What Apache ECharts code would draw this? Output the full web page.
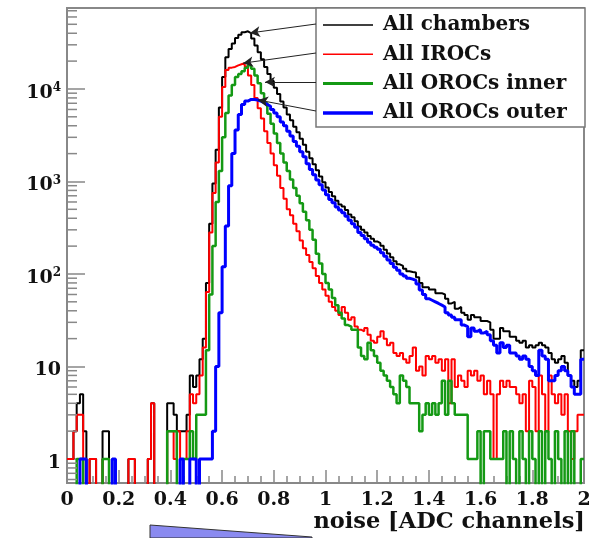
<!DOCTYPE html>
<html><head><meta charset="utf-8">
<script src="https://cdn.jsdelivr.net/npm/echarts@6/dist/echarts.min.js"></script>
<style>html,body{margin:0;padding:0;background:#fff}#c{width:594px;height:538px}</style>
</head><body><div id="c"></div>
<script>
// ---- data (160 bins of 0.0125 from 0 to 2) ----
const binWidth = 0.0125;
const seriesNames = ['All chambers', 'All IROCs', 'All OROCs inner', 'All OROCs outer'];
const blackCounts = [
  1,1,2,4,5,2,0,1,1,0,
  0,2,2,0,1,0,0,0,0,1,
  1,0,0,0,0,1,4,0,0,0,
  0,4,4,3,2,2,2,3,8,6,
  8,12,20,80,350,950,2200,6300,13500,22000,
  27000,31000,35500,38500,41000,42000,40000,35000,29500,25000,
  21000,17300,14500,12200,10300,8800,7300,6300,5300,4600,
  3900,3400,2900,2500,2100,1780,1530,1320,1130,980,
  860,770,690,620,565,535,490,440,410,372,
  325,300,280,258,240,225,215,202,183,166,
  152,137,127,122,114,107,105,104,92,80,
  72,72,68,68,62,62,60,54,48,50,
  42,44,38,36,32,36,34,34,31,31,
  30,25,20,20,26,24,24,21,21,19,
  18,19,16,17,16,17,18,17,16,14,
  12,11,12,13,11,8,7,6,7,15
];
const redCounts = [
  1,1,2,3,3,0,0,1,1,0,
  0,1,1,0,0,0,0,0,0,1,
  1,0,0,0,0,1,4,0,0,0,
  0,2,2,1,2,1,1,2,5,4,
  5,8,16,64,280,750,1600,5000,10500,16000,
  17000,17300,18000,18500,19000,17500,14000,11000,8000,6200,
  4800,3500,2600,2000,1500,1150,850,650,500,430,
  350,290,230,190,160,135,115,95,80,68,
  58,50,44,40,36,44,38,32,34,27,
  25,24,26,22,19,18,21,24,20,17,
  18,14,13,14,12,11,13,16,9,10,
  8,13,12,13,11,12,9,12,4,12,
  6,8,7,6,9,8,9,7,8,5,
  7,5,1,5,7,6,7,6,6,5,
  4,5,2,7,6,2,8,5,2,8,
  5,4,5,3,5,2,1,2,3,3
];
const greenCounts = [
  0,0,0,1,1,0,0,0,0,0,
  0,1,1,0,0,0,0,0,0,0,
  0,0,0,0,0,0,0,0,0,0,
  0,2,2,2,0,0,1,1,2,1,
  3,3,3,15,60,200,600,1300,3000,5500,
  8500,11000,13500,14500,15500,17000,18000,16500,14000,11500,
  9000,7000,5400,4200,3300,2600,2000,1600,1300,1050,
  850,700,580,470,380,300,235,165,130,100,
  80,68,55,46,38,33,28,27,25,25,
  16,13,12,18,15,13,11,9,8,7,
  6,5,4,8,7,6,4,4,4,2,
  3,4,3,4,3,4,7,3,7,4,
  3,3,3,3,1,1,1,2,0,2,
  2,1,1,1,1,2,0,2,1,0,
  2,1,0,2,1,0,2,0,2,1,
  0,2,1,0,2,0,2,0,0,1
];
const blueCounts = [
  0,0,0,0,1,1,0,0,0,0,
  0,0,0,0,1,0,0,0,0,0,
  0,0,0,0,0,0,0,0,0,0,
  0,0,0,0,0,1,0,0,1,1,
  0,1,1,1,1,2,10,38,120,330,
  900,2000,3600,5300,6800,7400,7700,7700,7600,7400,
  7100,6800,6500,6000,5500,5000,4400,4000,3500,3100,
  2700,2400,2100,1850,1550,1350,1180,1040,920,810,
  720,640,590,530,490,460,420,380,350,320,
  280,260,240,220,205,195,185,170,155,142,
  130,118,110,100,95,90,88,85,78,67,
  60,54,52,50,48,46,44,38,36,34,
  32,32,28,27,21,26,24,25,23,24,
  22,19,17,14,18,16,17,14,14,13,
  12,13,12,10,9,8,15,13,12,7,
  7,8,9,10,9,8,6,5,5,12
];
const seriesColors = ['#000000', '#ff0000', '#149914', '#0000ff'];
const seriesWidths = [2, 2, 2.5, 3];
const legendLineWidths = [1.6, 1.6, 3, 3.5];
const yMinorTicks = [0.6,0.7,0.8,0.9, 2,3,4,5,6,7,8,9, 20,30,40,50,60,70,80,90,
  200,300,400,500,600,700,800,900, 2000,3000,4000,5000,6000,7000,8000,9000,
  20000,30000,40000,50000,60000,70000];
// arrow tips on the curves (data coords) and legend anchor rows
const arrowTips = [[0.708, 40300], [0.681, 19000], [0.766, 11900], [0.739, 7600]];
const legendAnchors = [[316, 24], [316, 53], [316, 82], [316, 111]];

const FONT = "'DejaVu Serif', 'Liberation Serif', serif";
const FLOOR = 0.3; // empty bins drawn down below the axis minimum (clipped)

function toSteps(counts) {
  const pts = counts.map((v, i) => [i * binWidth, v > 0 ? v : FLOOR]);
  pts.push([counts.length * binWidth, pts[pts.length - 1][1]]);
  return pts;
}
const allCounts = [blackCounts, redCounts, greenCounts, blueCounts];

const chart = echarts.init(document.getElementById('c'), null, {renderer: 'canvas'});
const series = allCounts.map((c, k) => ({
  name: seriesNames[k], type: 'line', step: 'end', symbol: 'none', showSymbol: false,
  data: toSteps(c), clip: true, animation: false, z: 2 + k * 0.01,
  lineStyle: {color: seriesColors[k], width: seriesWidths[k]},
  itemStyle: {color: seriesColors[k]}
}));
series[0].markLine = {
  silent: true, animation: false, symbol: ['arrow', 'none'], symbolSize: [8, 10],
  label: {show: false}, lineStyle: {color: '#222', width: 1, type: 'solid'},
  data: arrowTips.map((p, i) => [{coord: p}, {x: legendAnchors[i][0], y: legendAnchors[i][1]}])
};
series.push({
  type: 'custom', name: 'yminor', silent: true, animation: false, z: 3,
  data: yMinorTicks.map(v => [0, v]),
  renderItem: (params, api) => {
    const p = api.coord([0, api.value(1)]);
    return {type: 'line', shape: {x1: p[0], y1: p[1], x2: p[0] + 10, y2: p[1]},
      style: {stroke: '#888', lineWidth: 1.5}};
  }
});

chart.setOption({
  animation: false,
  backgroundColor: '#fff',
  grid: {left: 67, right: 10, top: 8, bottom: 55, show: true, borderColor: '#888', borderWidth: 2, backgroundColor: 'transparent'},
  title: {text: 'noise [ADC channels]', right: 9, top: 511, padding: 0,
    textStyle: {fontFamily: FONT, fontWeight: 'bold', fontSize: 22.5, color: '#111'}},
  legend: {
    data: seriesNames.map((n, k) => ({
      name: n,
      icon: 'path://M0 0H50V' + legendLineWidths[k] + 'H0Z',
      itemStyle: {color: seriesColors[k], opacity: 1}
    })),
    orient: 'vertical', left: 323, top: 15, padding: 0,
    itemWidth: 50, itemHeight: 14, itemGap: 9.3, symbolKeepAspect: true,
    textStyle: {fontFamily: FONT, fontWeight: 'bold', fontSize: 20, color: '#111', lineHeight: 20, padding: [0, 0, 0, 5]}
  },
  xAxis: {
    type: 'value', min: 0, max: 2, interval: 0.2,
    axisLine: {lineStyle: {color: '#888', width: 2}},
    axisTick: {inside: true, length: 13, lineStyle: {color: '#888', width: 1.5}},
    minorTick: {show: true, splitNumber: 4, length: 7, lineStyle: {color: '#888', width: 1.5}},
    splitLine: {show: false},
    axisLabel: {margin: 8, fontFamily: FONT, fontWeight: 'bold', fontSize: 19, color: '#111',
      formatter: v => (Math.round(v * 10) / 10).toString()}
  },
  yAxis: {
    type: 'log', logBase: 10, min: 0.55, max: 75000,
    axisLine: {show: true, lineStyle: {color: '#888', width: 2}},
    axisTick: {inside: true, length: 18, lineStyle: {color: '#888', width: 1.5}},
    splitLine: {show: false},
    axisLabel: {
      showMinLabel: false, showMaxLabel: false, margin: 6, padding: [8, 0, 0, 0],
      formatter: v => {
        const e = Math.round(Math.log10(v));
        if (Math.abs(Math.log10(v) - e) > 1e-6) return '';
        if (e === 0) return '{b|1}';
        if (e === 1) return '{b|10}';
        return '{b|10}{s|' + e + '}';
      },
      rich: {
        b: {fontFamily: FONT, fontWeight: 'bold', fontSize: 19, color: '#111', lineHeight: 22},
        s: {fontFamily: FONT, fontWeight: 'bold', fontSize: 12, color: '#111', lineHeight: 22, verticalAlign: 'top'}
      }
    }
  },
  graphic: [
    {type: 'rect', z: 3, silent: true, shape: {x: 316, y: 8, width: 269, height: 119},
      style: {fill: '#fff', stroke: '#777', lineWidth: 1.5}},
    {type: 'polygon', z: 1, silent: true, shape: {points: [[150, 525], [312, 537], [312, 538], [150, 538]]},
      style: {fill: '#8a8af0', stroke: '#333', lineWidth: 1}}
  ],
  series: series
});
</script></body></html>
